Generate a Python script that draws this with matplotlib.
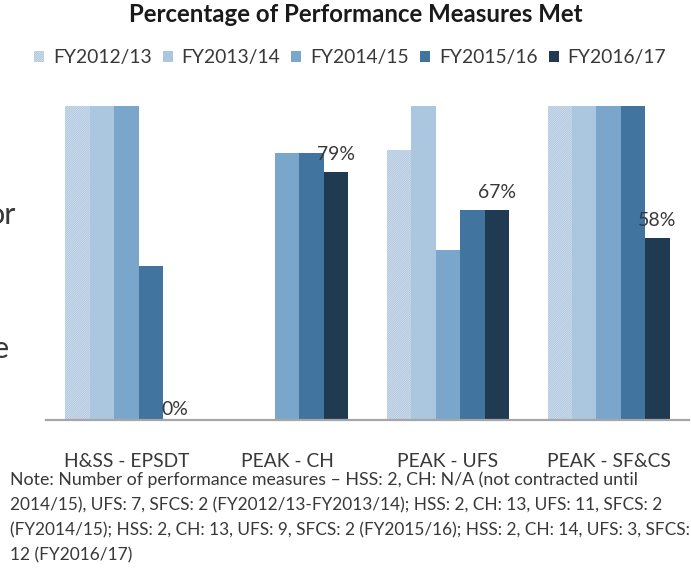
import numpy as np
import matplotlib
matplotlib.use("Agg")
import matplotlib.pyplot as plt

plt.rcParams['font.family'] = ['Lato', 'DejaVu Sans']
plt.rcParams['hatch.linewidth'] = 0.7

# ---------------- data ----------------
categories = ['H&SS - EPSDT', 'PEAK - CH', 'PEAK - UFS', 'PEAK - SF&CS']
series_names = ['FY2012/13', 'FY2013/14', 'FY2014/15', 'FY2015/16', 'FY2016/17']
fy2012_13 = [100, np.nan, 86, 100]
fy2013_14 = [100, np.nan, 100, 100]
fy2014_15 = [100, 85, 54, 100]
fy2015_16 = [49, 85, 67, 100]
fy2016_17 = [0, 79, 67, 58]
label_texts = ['0%', '79%', '67%', '58%']
title = 'Percentage of Performance Measures Met'
note_lines = [
    'Note: Number of performance measures \u2013 HSS: 2, CH: N/A (not contracted until',
    '2014/15), UFS: 7, SFCS: 2 (FY2012/13-FY2013/14); HSS: 2, CH: 13, UFS: 11, SFCS: 2',
    '(FY2014/15); HSS: 2, CH: 13, UFS: 9, SFCS: 2 (FY2015/16); HSS: 2, CH: 14, UFS: 3, SFCS:',
    '12 (FY2016/17)',
]
series = [fy2012_13, fy2013_14, fy2014_15, fy2015_16, fy2016_17]

# ---------------- style ----------------
colors = ['#ffffff', '#abc6df', '#7ba6cb', '#41749e', '#203a51']
hatch_color = '#a9c3dd'
text_color = '#383838'

W, H = 691, 571
fig = plt.figure(figsize=(W / 100, H / 100), dpi=100)
renderer = fig.canvas.get_renderer()


def size_for(text, target_px, weight='normal', base=12.0):
    t = fig.text(0, 0, text, fontsize=base, fontweight=weight)
    w = t.get_window_extent(renderer).width
    t.remove()
    return base * target_px / w


ax = fig.add_axes([46 / W, (H - 420) / H, 643 / W, 314 / H])

x = np.arange(len(categories))
bw = 0.152
bars = []
for i, (vals, name) in enumerate(zip(series, series_names)):
    off = (i - 2) * bw
    if i == 0:
        b = ax.bar(x + off, vals, bw, facecolor='white', edgecolor=hatch_color,
                   hatch='/' * 18, linewidth=0, label=name)
    else:
        b = ax.bar(x + off, vals, bw, color=colors[i], linewidth=0, label=name)
    bars.append(b)

ax.set_xlim(-0.5, len(categories) - 0.5)
ax.set_ylim(0, 100)
for s in ['top', 'right', 'left']:
    ax.spines[s].set_visible(False)
ax.spines['bottom'].set_color('#a6a6a6')
ax.spines['bottom'].set_linewidth(1.6)
ax.set_yticks([])

fs_tick = size_for('H&SS - EPSDT', 125)
ax.set_xticks(x)
ax.set_xticklabels(categories, fontsize=fs_tick, color=text_color)
ax.tick_params(axis='x', length=0, pad=24)

# data labels on the last series
fs_lab = size_for('67%', 38)
for xi, v, t in zip(x, fy2016_17, label_texts):
    off_px = 12 if v > 0 else 5
    ax.annotate(t, (xi + 2 * bw, v), xytext=(0, off_px * 0.72), textcoords='offset points',
                ha='center', va='baseline', fontsize=fs_lab, color=text_color)

# title
fs_title = size_for(title, 452, weight='bold')
fig.text(356 / W, 1 - 22 / H, title, ha='center', va='baseline', fontsize=fs_title,
         fontweight='bold', color='#1a1a1a')

# legend
fs_leg = size_for('FY2012/13', 98)
fs_px = fs_leg * 100 / 72
leg = fig.legend(handles=bars, labels=series_names, loc='center', ncol=5,
                 bbox_to_anchor=(350 / W, 1 - 58 / H), frameon=False,
                 fontsize=fs_leg, handlelength=10 / fs_px, handleheight=10 / fs_px,
                 handletextpad=9 / fs_px, columnspacing=11 / fs_px, borderpad=0,
                 borderaxespad=0)
for t in leg.get_texts():
    t.set_color(text_color)

# note (each wrapped line fitted to the width it has in the reference)
note_widths = [627, 647, 678]
sizes = [size_for(l, w) for l, w in zip(note_lines[:3], note_widths)]
sizes.append(float(np.mean(sizes)))
for k, (line, fs) in enumerate(zip(note_lines, sizes)):
    fig.text(10 / W, 1 - (485 + 25 * k) / H, line, ha='left', va='baseline',
             fontsize=fs, color=text_color)

# cut-off text fragments at the left edge (as in the reference)
fig.text(16 / W, 1 - 224 / H, 'or', ha='right', va='baseline', fontsize=22, color=text_color)
fig.text(9 / W, 1 - 358 / H, 'e', ha='right', va='baseline', fontsize=22, color=text_color)

fig.savefig('out.png', dpi=100)
